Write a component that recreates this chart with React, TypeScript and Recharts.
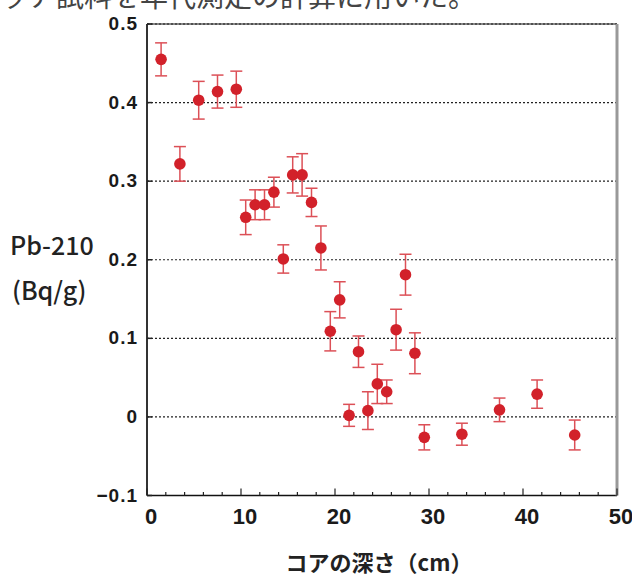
import React from 'react';
import { ScatterChart, Scatter, XAxis, YAxis, CartesianGrid, ErrorBar } from 'recharts';

const depthCm = [1.5, 3.5, 5.5, 7.5, 9.5, 10.5, 11.5, 12.5, 13.5, 14.5, 15.5, 16.5, 17.5, 18.5, 19.5, 20.5, 21.5, 22.5, 23.5, 24.5, 25.5, 26.5, 27.5, 28.5, 29.5, 33.5, 37.5, 41.5, 45.5];
const pb210 = [0.455, 0.322, 0.403, 0.414, 0.417, 0.254, 0.270, 0.270, 0.286, 0.201, 0.308, 0.308, 0.273, 0.215, 0.109, 0.149, 0.002, 0.083, 0.008, 0.042, 0.032, 0.111, 0.181, 0.081, -0.026, -0.022, 0.009, 0.029, -0.023];
const pb210Err = [0.021, 0.022, 0.024, 0.021, 0.023, 0.022, 0.019, 0.019, 0.019, 0.018, 0.023, 0.027, 0.018, 0.028, 0.025, 0.023, 0.014, 0.020, 0.024, 0.025, 0.015, 0.026, 0.026, 0.026, 0.016, 0.014, 0.015, 0.018, 0.019];

const xTicks = [0, 2, 4, 6, 8, 10, 12, 14, 16, 18, 20, 22, 24, 26, 28, 30, 32, 34, 36, 38, 40, 42, 44, 46, 48, 50];
const xTickLabels = ['0', '10', '20', '30', '40', '50'];
const yTicks = [-0.1, 0, 0.1, 0.2, 0.3, 0.4, 0.5];
const yTickLabels = ['\u22120.1', '0', '0.1', '0.2', '0.3', '0.4', '0.5'];

const headerText = 'ッア試料を年代測定の計算に用いた。';
const yTitle1 = 'Pb-210';
const yTitle2 = '(Bq/g)';
const xTitle = 'コアの深さ（cm）';

const data = depthCm.map((d, i) => ({ x: d, y: pb210[i], err: pb210Err[i] }));

const numFont = "'Liberation Sans', Arial, sans-serif";
const narrowFont = "'Liberation Sans Narrow', 'Liberation Sans', Arial, sans-serif";
const jpFont = "'Noto Sans CJK JP', 'Noto Sans', sans-serif";

const BottomTick = (props: any) => {
  const { x, y, payload } = props;
  const v = payload.value;
  const major = v % 10 === 0;
  return (
    <g>
      <line x1={x} x2={x} y1={y} y2={y - (major ? 7 : 3.5)} stroke="#222" strokeWidth={1.2} />
      {major && (
        <text x={x + 4} y={y + 28} textAnchor="middle" fontFamily={narrowFont} fontWeight="bold" fontSize={22} fill="#1a1a1a">
          {xTickLabels[Math.round(v / 10)]}
        </text>
      )}
    </g>
  );
};

const TopTick = (props: any) => {
  const { x, y, payload } = props;
  const v = payload.value;
  const major = v % 10 === 0;
  return <line x1={x} x2={x} y1={y} y2={y + (major ? 7 : 3.5)} stroke="#222" strokeWidth={1.2} />;
};

const LeftTick = (props: any) => {
  const { x, y, index } = props;
  return (
    <g>
      <line x1={x} x2={x + 5} y1={y} y2={y} stroke="#222" strokeWidth={1.5} />
      <text x={x - 9} y={y + 6} textAnchor="end" fontFamily={numFont} fontWeight="bold" fontSize={19} letterSpacing={1} fill="#1a1a1a">
        {yTickLabels[index]}
      </text>
    </g>
  );
};

const RightTick = (props: any) => {
  const { x, y } = props;
  return <line x1={x} x2={x - 5} y1={y} y2={y} stroke="#222" strokeWidth={1.5} />;
};

const Dot = (p: any) => <circle cx={p.cx} cy={p.cy} r={5.8} fill="#d2212a" />;

export default function App() {
  return (
    <div style={{ position: 'absolute', left: 0, top: 0, width: 632, height: 578, background: '#fff', overflow: 'hidden' }}>
      <ScatterChart width={632} height={578} margin={{ top: 14, right: 0, bottom: 42.5, left: 0 }}>
        <CartesianGrid xAxisId="bottom" yAxisId="left" vertical={false} stroke="#222" strokeWidth={1.2} strokeDasharray="2 2" />
        <XAxis xAxisId="bottom" dataKey="x" type="number" domain={[0, 50]} ticks={xTicks} interval={0} height={40}
          tickSize={0} tickMargin={0} tick={<BottomTick />} axisLine={{ stroke: '#111', strokeWidth: 1.5 }} tickLine={false} />
        <XAxis xAxisId="top" orientation="top" type="number" domain={[0, 50]} ticks={xTicks} interval={0} height={10}
          tickSize={0} tickMargin={0} tick={<TopTick />} axisLine={{ stroke: '#111', strokeWidth: 1.2 }} tickLine={false} />
        <YAxis yAxisId="left" dataKey="y" type="number" domain={[-0.1, 0.5]} ticks={yTicks} interval={0} width={147}
          tickSize={0} tickMargin={0} tick={<LeftTick />} axisLine={{ stroke: '#333', strokeWidth: 2 }} tickLine={false} />
        <YAxis yAxisId="right" orientation="right" type="number" domain={[-0.1, 0.5]} ticks={yTicks} interval={0} width={15}
          tickSize={0} tickMargin={0} tick={<RightTick />} axisLine={{ stroke: '#999', strokeWidth: 3 }} tickLine={false} />
        <Scatter xAxisId="bottom" yAxisId="left" data={data} shape={<Dot />} isAnimationActive={false}>
          <ErrorBar dataKey="err" direction="y" width={6} stroke="#dc5057" strokeWidth={1.5} isAnimationActive={false} />
        </Scatter>
      </ScatterChart>
      <svg width={632} height={578} style={{ position: 'absolute', left: 0, top: 0, pointerEvents: 'none' }}>
        <text x={0} y={7} fontFamily={jpFont} fontSize={28} fill="#444">{headerText}</text>
        <text x={10} y={255} fontFamily={jpFont} fontSize={25} fontWeight={500} fill="#222">{yTitle1}</text>
        <text x={12} y={300} fontFamily={jpFont} fontSize={25} fontWeight={500} fill="#222">{yTitle2}</text>
        <text x={379} y={571} textAnchor="middle" fontFamily={jpFont} fontSize={22} fontWeight="bold" fill="#222">{xTitle}</text>
      </svg>
    </div>
  );
}
